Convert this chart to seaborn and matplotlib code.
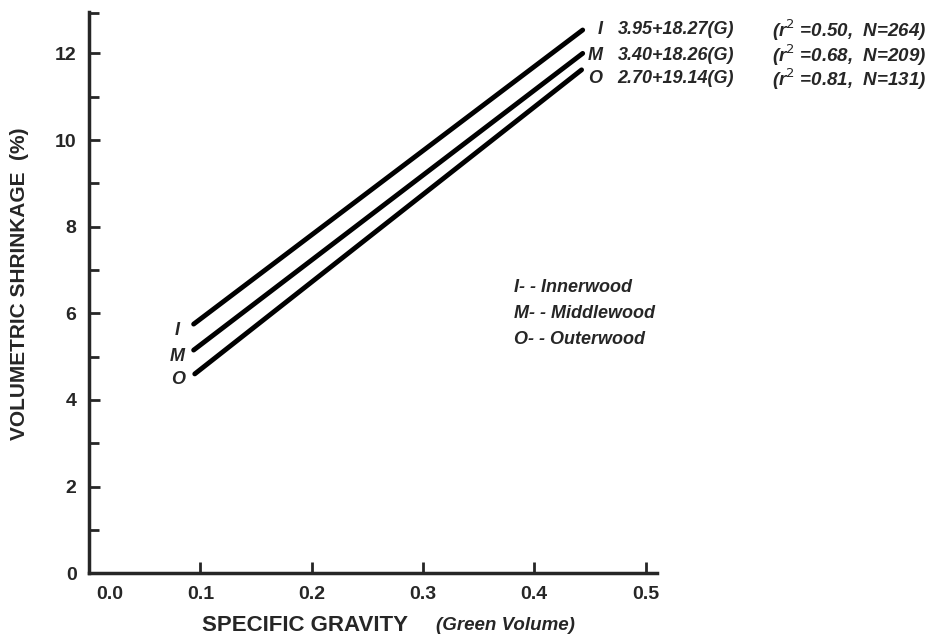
# Volumetric shrinkage vs specific gravity for three wood zones

import matplotlib
matplotlib.use("Agg")
import matplotlib.pyplot as plt
import matplotlib.transforms as mtransforms
import seaborn as sns
import pandas as pd

# Wood zones and end points of each fitted line
zones = ["I", "M", "O"]
zone_names = ["Innerwood", "Middlewood", "Outerwood"]
gravity_start = [0.094, 0.094, 0.095]
gravity_end = [0.4435, 0.4435, 0.4425]
shrink_start = [5.75, 5.15, 4.60]
shrink_end = [12.54, 12.0, 11.62]
equations = ["3.95+18.27(G)", "3.40+18.26(G)", "2.70+19.14(G)"]
r_squared = ["0.50", "0.68", "0.81"]
n_obs = [264, 209, 131]

x_ticks = [0.0, 0.1, 0.2, 0.3, 0.4, 0.5]
y_ticks = [0, 2, 4, 6, 8, 10, 12]
y_minor = [1, 3, 5, 7, 9, 11, 12.93]

# long table for seaborn
rows = []
for i, z in enumerate(zones):
    rows.append({"zone": z, "gravity": gravity_start[i], "shrinkage": shrink_start[i]})
    rows.append({"zone": z, "gravity": gravity_end[i], "shrinkage": shrink_end[i]})
df = pd.DataFrame(rows)

sns.set_style("ticks")
plt.rcParams["font.family"] = ["Liberation Sans", "DejaVu Sans"]

fig = plt.figure(figsize=(9.43, 6.44), dpi=100)
ax = fig.add_axes([0.0944, 0.110, 0.602, 0.871])

sns.lineplot(data=df, x="gravity", y="shrinkage", hue="zone",
             palette={z: "black" for z in zones}, estimator=None,
             linewidth=3.5, legend=False, ax=ax)

ax.set_xlim(0, 0.51)
ax.set_ylim(0, 12.95)
sns.despine(ax=ax)
for s in ["left", "bottom"]:
    ax.spines[s].set_linewidth(2.5)

ax.set_xticks(x_ticks, labels=[f"{v:.1f}" for v in x_ticks])
ax.set_yticks(y_ticks, labels=[str(v) for v in y_ticks])
ax.set_yticks(y_minor, minor=True)
ax.tick_params(which="both", direction="in", width=2, labelsize=14, pad=9)
ax.tick_params(which="major", length=8)
ax.tick_params(which="minor", length=7)
for lbl in ax.get_xticklabels() + ax.get_yticklabels():
    lbl.set_fontweight("bold")
first = ax.get_xticklabels()[0]
first.set_ha("left")
first.set_transform(first.get_transform() +
                    mtransforms.ScaledTranslation(5 / 72, 0, fig.dpi_scale_trans))
ax.set_xlabel("")
ax.set_ylabel("")

# axis titles
fig.text(0.021, 0.56, "VOLUMETRIC SHRINKAGE  (%)", rotation=90, ha="center",
         va="center", fontsize=15, fontweight="bold")
fig.text(0.214, 0.028, "SPECIFIC GRAVITY", ha="left", va="center",
         fontsize=16, fontweight="bold")
fig.text(0.462, 0.028, "(Green Volume)", ha="left", va="center",
         fontsize=13.5, fontweight="bold", style="italic")

# zone letters at the start of each line
for i, z in enumerate(zones):
    ax.text(gravity_start[i] - 0.0145, shrink_start[i] - 0.14, z, ha="center",
            va="center", fontsize=13, fontweight="bold", style="italic")

# regression equations at the end of each line
eq_style = dict(va="center", fontsize=13, fontweight="bold", style="italic",
                clip_on=False)
row_y = [12.54, 11.96, 11.41]
for i, z in enumerate(zones):
    ax.text(0.4614, row_y[i], z, ha="right", **eq_style)
    ax.text(0.4749, row_y[i], equations[i], ha="left", **eq_style)
    ax.text(0.614, row_y[i], f"(r$^{{2}}$ =={r_squared[i]},  N={n_obs[i]})".replace("==", "="),
            ha="left", va="center", fontsize=13.5, fontweight="bold",
            style="italic", clip_on=False)

# key for zone letters
for i, z in enumerate(zones):
    ax.text(0.3815, 6.6 - 0.6 * i, f"{z}- - {zone_names[i]}", ha="left",
            va="center", fontsize=13, fontweight="bold", style="italic")

fig.savefig("out.png", dpi=100)
